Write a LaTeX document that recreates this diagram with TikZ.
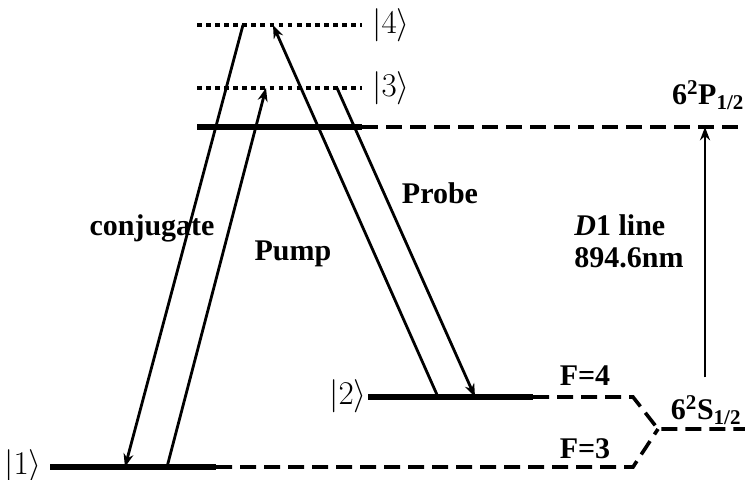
\documentclass[tikz,border=0pt]{standalone}
\usepackage{fontspec}
\setmainfont{Liberation Serif}
\usetikzlibrary{arrows.meta}

\begin{document}
\begin{tikzpicture}[x=0.75pt, y=-0.75pt,
    every node/.style={font=\fontsize{22.5}{24}\selectfont\bfseries, inner sep=0pt, align=left},
    ket/.style={font=\fontsize{24}{26}\selectfont},
    level/.style={line width=3.9pt},
    virtual/.style={line width=3.2pt, dash pattern=on 3.6pt off 3.2pt},
    hyper/.style={line width=2.7pt, dash pattern=on 12pt off 6pt},
    beam/.style={line width=2.1pt, -{Stealth[length=10pt, width=7.5pt]}}]

    \useasboundingbox (0,0) rectangle (745,479);

    % Levels
    \draw[virtual] (197,25) -- (362,25);
    \draw[virtual] (197,88) -- (362,88);
    \draw[level] (197,127) -- (362,127);
    \draw[hyper] (362,127) -- (745,127);
    \draw[level] (368,397) -- (533,397);
    \draw[hyper] (533,397) -- (633,397) -- (658,429) -- (745,429);
    \draw[level] (50,467) -- (216,467);
    \draw[hyper] (216,467) -- (633,467) -- (658,429);

    % Labels
    \node[ket] (k4) at (391,25) {$|4\rangle$};
    \node[ket] (k3) at (391,88) {$|3\rangle$};
    \node[ket] (k2) at (348,396) {$|2\rangle$};
    \node[ket] (k1) at (23,466) {$|1\rangle$};
    \node (sp) at (708,95) {6\textsuperscript{2}P\textsubscript{1/2}};
    \node (ss) at (706,410) {6\textsuperscript{2}S\textsubscript{1/2}};
    \node (f4) at (585,376) {F=4};
    \node (f3) at (585,449) {F=3};
    \node (conj) at (152,228) {conjugate};
    \node (pump) at (293,254) {Pump};
    \node (probe) at (440,193) {Probe};
    \node (dline) at (629,241) {\textit{D}1 line\\894.6nm};

    % Transitions
    \coordinate (c4) at (243,25);
    \coordinate (c1) at (125,467);
    \coordinate (p1) at (167,467);
    \coordinate (p3) at (266,88);
    \coordinate (q2) at (438,397);
    \coordinate (q4) at (273,25);
    \coordinate (r3) at (337,88);
    \coordinate (r2) at (475,397);
    \coordinate (dt) at (705,127);
    \draw[beam] (c4) -- (c1);
    \draw[beam] (p1) -- (p3);
    \draw[beam] (q2) -- (q4);
    \draw[beam] (r3) -- (r2);
    \draw[beam, line width=1.8pt] (ss.north -| dt) ++(0,-18) -- (dt);
\end{tikzpicture}
\end{document}
